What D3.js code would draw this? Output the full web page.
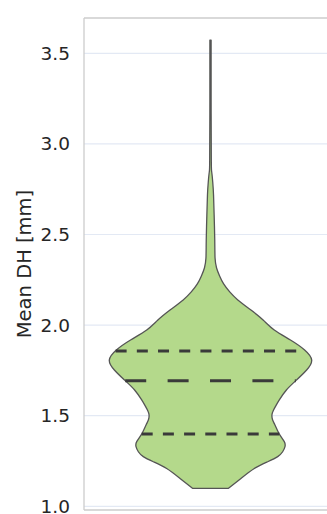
<!DOCTYPE html>
<html>
<head>
<meta charset="utf-8">
<script src="https://cdn.jsdelivr.net/npm/d3@7"></script>
<style>
  html, body { margin: 0; padding: 0; background: #ffffff; }
  svg { display: block; }
</style>
</head>
<body>
<div id="chart"></div>
<script>
// Kernel density profile of mean DH (mm): value along the axis and relative density (max = 1)
const densityValues = [3.573, 3.242, 2.911, 2.845, 2.790, 2.718, 2.608, 2.470, 2.370, 2.315,
                       2.271, 2.227, 2.183, 2.139, 2.083, 2.028, 1.973, 1.918, 1.863, 1.807,
                       1.752, 1.697, 1.642, 1.587, 1.557, 1.530, 1.504, 1.476, 1.449, 1.399,
                       1.357, 1.329, 1.301, 1.274, 1.246, 1.209, 1.154, 1.099];
const densityWidths = [0.006, 0.006, 0.008, 0.012, 0.022, 0.030, 0.036, 0.042, 0.045, 0.060,
                       0.090, 0.130, 0.190, 0.270, 0.400, 0.520, 0.630, 0.790, 0.930, 1.000,
                       0.950, 0.850, 0.750, 0.680, 0.648, 0.622, 0.607, 0.614, 0.637, 0.680,
                       0.729, 0.736, 0.713, 0.664, 0.565, 0.433, 0.301, 0.178];
// Quartiles: Q1, median, Q3
const quartileValues = [1.399, 1.693, 1.857];
const quartileKinds = ["quartile", "median", "quartile"];
const yTicks = [1.0, 1.5, 2.0, 2.5, 3.0, 3.5];
const yLabel = "Mean DH [mm]";
const groups = ["all"];

const width = 327, height = 514;
const plot = { left: 84, right: 337, top: 18, bottom: 510 };

const svg = d3.select("#chart").append("svg")
  .attr("width", width).attr("height", height);

const y = d3.scaleLinear().domain([0.9796, 3.6948]).range([plot.bottom, plot.top]);
const x = d3.scaleBand().domain(groups).range([plot.left, plot.right]);
const halfWidth = d3.scaleLinear().domain([0, 1]).range([0, 101.2]);
const cx = x(groups[0]) + x.bandwidth() / 2;

// grid lines
svg.append("g")
  .selectAll("line").data(yTicks).join("line")
  .attr("x1", plot.left).attr("x2", plot.right)
  .attr("y1", d => y(d)).attr("y2", d => y(d))
  .attr("stroke", "#e3e9f4").attr("stroke-width", 1.2);

// spines
const spines = svg.append("g").attr("stroke", "#cccccc").attr("stroke-width", 1.3).attr("fill", "none");
spines.append("line").attr("x1", plot.left).attr("x2", plot.left).attr("y1", plot.top).attr("y2", plot.bottom);
spines.append("line").attr("x1", plot.left).attr("x2", plot.right).attr("y1", plot.top).attr("y2", plot.top);
spines.append("line").attr("x1", plot.left).attr("x2", plot.right).attr("y1", plot.bottom).attr("y2", plot.bottom);

// y axis tick labels
const axis = d3.axisLeft(y).tickValues(yTicks).tickFormat(d3.format(".1f")).tickSize(0).tickPadding(14);
const ag = svg.append("g").attr("transform", `translate(${plot.left},0)`).call(axis);
ag.select(".domain").remove();
ag.selectAll("text")
  .attr("font-family", "DejaVu Sans")
  .attr("font-size", 18.5)
  .attr("fill", "#262626");

// axis title
svg.append("text")
  .attr("transform", `translate(31,${(plot.top + plot.bottom) / 2}) rotate(-90)`)
  .attr("text-anchor", "middle")
  .attr("font-family", "DejaVu Sans")
  .attr("font-size", 19.5)
  .attr("fill", "#262626")
  .text(yLabel);

// violin body
const profile = densityValues.map((v, i) => ({ v, w: densityWidths[i] }));
const area = d3.area()
  .x0(d => cx - halfWidth(d.w))
  .x1(d => cx + halfWidth(d.w))
  .y(d => y(d.v))
  .curve(d3.curveNatural);

svg.append("path")
  .datum(profile)
  .attr("d", area)
  .attr("fill", "#b4d98b")
  .attr("stroke", "#555555")
  .attr("stroke-width", 1.3)
  .attr("stroke-linejoin", "round");

// quartile lines spanning the density at each value
const sorted = profile.slice().sort((a, b) => a.v - b.v);
function densityAt(v) {
  const i = d3.bisector(d => d.v).left(sorted, v);
  const a = sorted[Math.max(0, i - 1)], b = sorted[Math.min(sorted.length - 1, i)];
  if (a === b) return a.w;
  const t = (v - a.v) / (b.v - a.v);
  return a.w + t * (b.w - a.w);
}

svg.append("g")
  .selectAll("line").data(quartileValues).join("line")
  .attr("x1", d => cx - halfWidth(densityAt(d)))
  .attr("x2", d => cx + halfWidth(densityAt(d)))
  .attr("y1", d => y(d)).attr("y2", d => y(d))
  .attr("stroke", "#3a3a3a")
  .attr("stroke-width", 2.8)
  .attr("stroke-dasharray", (d, i) => quartileKinds[i] === "median" ? "21,21.4" : "11,10.2");
</script>
</body>
</html>
